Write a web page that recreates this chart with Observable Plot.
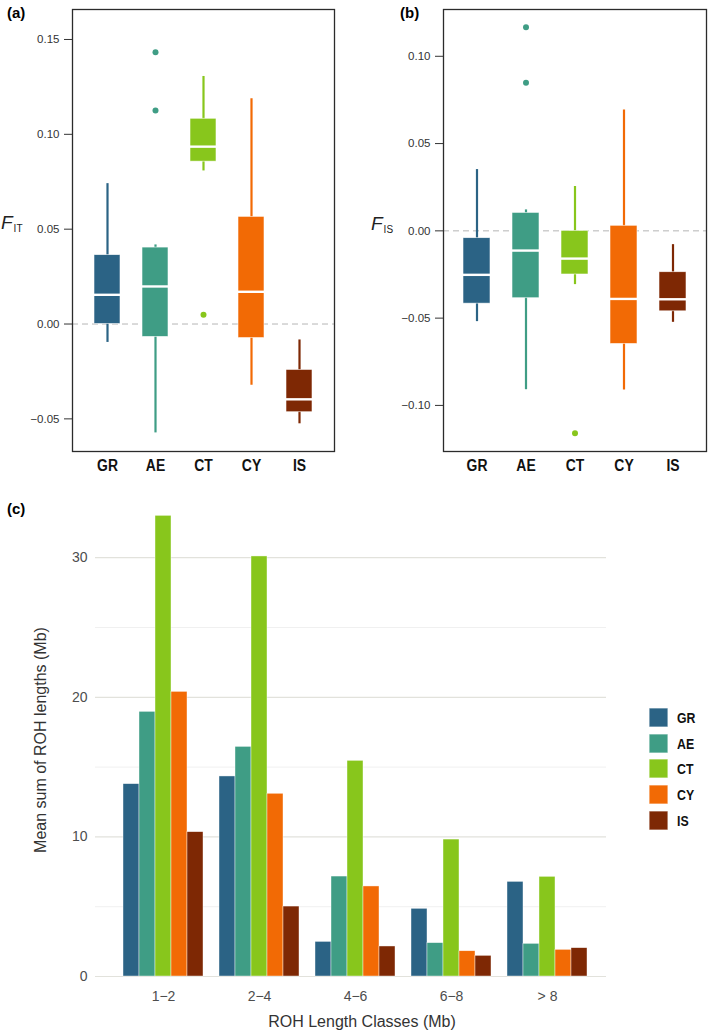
<!DOCTYPE html>
<html>
<head>
<meta charset="utf-8">
<script src="https://cdn.jsdelivr.net/npm/d3@7"></script>
<script src="https://cdn.jsdelivr.net/npm/@observablehq/plot@0.6"></script>
<style>
  body { margin: 0; background: #fff; }
  #page { position: relative; width: 709px; height: 1034px; font-family: "Liberation Sans", Arial, sans-serif; }
  .abs { position: absolute; }
  .panel-tag { position: absolute; font-weight: bold; font-size: 15px; color: #000; }
  .flab { position: absolute; color: #222; white-space: nowrap; }
  .flab i { font-size: 19px; font-family: "Liberation Sans", Arial, sans-serif; }
  .flab sub { font-size: 10px; vertical-align: -3px; margin-left: 1px; }
  .legend-row { position: absolute; left: 649px; height: 20px; }
  .legend-sw { position: absolute; left: 0; top: 0; width: 19px; height: 19px; box-shadow: inset 0 0 0 0.6px rgba(255,255,255,0.7); }
  .legend-tx { position: absolute; left: 28px; top: 1px; font-family: "Liberation Sans", Arial, sans-serif; font-weight: bold; font-size: 15px; color: #111; transform: scaleX(0.82); transform-origin: 0 50%; }
</style>
</head>
<body>
<div id="page">
  <div id="pa" class="abs" style="left:0;top:0"></div>
  <div id="pb" class="abs" style="left:360px;top:0"></div>
  <div id="pc" class="abs" style="left:0;top:480px"></div>
  <div class="panel-tag" style="left:7px;top:4px">(a)</div>
  <div class="panel-tag" style="left:400px;top:4px">(b)</div>
  <div class="panel-tag" style="left:7px;top:500px">(c)</div>
  <div class="flab" style="left:1px;top:212px"><i>F</i><sub>IT</sub></div>
  <div class="flab" style="left:371px;top:213px"><i>F</i><sub>IS</sub></div>
  <div class="abs" style="left:266px;top:1013px;width:192px;text-align:center;font-size:16px;color:#333;white-space:nowrap">ROH Length Classes (Mb)</div>
  <div class="abs" style="left:41px;top:740px;transform:translate(-50%,-50%) rotate(-90deg);font-size:16px;color:#333;white-space:nowrap">Mean sum of ROH lengths (Mb)</div>
  <div id="legend"></div>
</div>
<script>
// ---------- data ----------
const pops = ["GR", "AE", "CT", "CY", "IS"];
const popColors = ["#2b6385", "#3f9d85", "#88c61c", "#f26a05", "#7e2804"];

// (a) F_IT box statistics
const fitWhiskerLow  = [-0.0097, -0.0574, 0.0807, -0.0323, -0.0526];
const fitQ1          = [0.0000, -0.0068, 0.0856, -0.0074, -0.0465];
const fitMedian      = [0.0154, 0.0198, 0.0935, 0.0170, -0.0397];
const fitQ3          = [0.0363, 0.0403, 0.1082, 0.0565, -0.0242];
const fitWhiskerHigh = [0.0740, 0.0417, 0.1305, 0.1187, -0.0084];
const fitOutlierPop   = ["AE", "AE", "CT"];
const fitOutlierValue = [0.1433, 0.1126, 0.0049];
const fitTicks = [-0.05, 0, 0.05, 0.10, 0.15];

// (b) F_IS box statistics
const fisWhiskerLow  = [-0.0520, -0.0910, -0.0308, -0.0911, -0.0524];
const fisQ1          = [-0.0417, -0.0386, -0.0250, -0.0648, -0.0461];
const fisMedian      = [-0.0252, -0.0113, -0.0159, -0.0390, -0.0392];
const fisQ3          = [-0.0042, 0.0103, 0.0000, 0.0029, -0.0237];
const fisWhiskerHigh = [0.0351, 0.0120, 0.0254, 0.0693, -0.0079];
const fisOutlierPop   = ["AE", "AE", "CT"];
const fisOutlierValue = [0.1167, 0.0848, -0.1160];
const fisTicks = [-0.10, -0.05, 0, 0.05, 0.10];

// (c) mean sum of ROH lengths (Mb)
const rohClasses = ["1−2", "2−4", "4−6", "6−8", "> 8"];
const rohGR = [13.78, 14.33, 2.48, 4.85, 6.78];
const rohAE = [18.96, 16.45, 7.16, 2.39, 2.34];
const rohCT = [33.00, 30.09, 15.45, 9.81, 7.14];
const rohCY = [20.39, 13.09, 6.45, 1.81, 1.91];
const rohIS = [10.34, 5.01, 2.15, 1.48, 2.03];
const rohMajorTicks = [0, 10, 20, 30];
const rohMinorTicks = [5, 15, 25];

// ---------- panels (a) and (b) ----------
const tickFont = "'Liberation Sans', Arial, sans-serif";

function condenseXLabels(svg) {
  d3.select(svg).selectAll("g[aria-label='x-axis tick label'] text").each(function () {
    const t = this.getAttribute("transform") || "";
    this.setAttribute("transform", t + " scale(0.82,1)");
  });
  return svg;
}

function boxPanel(o) {
  const stats = pops.map((p, i) => ({pop: p, low: o.low[i], q1: o.q1[i], med: o.med[i], q3: o.q3[i], high: o.high[i]}));
  const outs = o.outPop.map((p, i) => ({pop: p, value: o.outVal[i]}));
  const svg = Plot.plot({
    width: o.width, height: 480,
    marginLeft: o.marginLeft, marginRight: o.marginRight, marginTop: o.marginTop, marginBottom: o.marginBottom,
    style: {fontFamily: tickFont, fontSize: "11.5px", color: "#333", background: "transparent", overflow: "visible"},
    x: {domain: pops, paddingInner: 0.449, paddingOuter: 0.398},
    y: {domain: o.domain},
    color: {domain: pops, range: popColors},
    marks: [
      Plot.ruleY([0], {stroke: "#b5b5b5", strokeDasharray: "6,4", strokeWidth: 1}),
      Plot.ruleX(stats, {x: "pop", y1: "low", y2: "high", stroke: "pop", strokeWidth: 2.2}),
      Plot.barY(stats, {x: "pop", y1: "q1", y2: "q3", fill: "pop", stroke: "#fff", strokeWidth: 0.7, strokeOpacity: 0.8}),
      Plot.tickY(stats, {x: "pop", y: "med", stroke: "#fff", strokeWidth: 2.4}),
      Plot.dot(outs, {x: "pop", y: "value", fill: "pop", r: 3}),
      Plot.frame({stroke: "#2b2b2b", strokeWidth: 1.3}),
      Plot.axisY({ticks: o.ticks, tickFormat: d3.format(".2f"), tickSize: 8, tickPadding: 5, label: null, stroke: "#333"}),
      Plot.axisX({tickSize: 0, tickPadding: 7, label: null, fontSize: 17, fontWeight: "bold", fill: "#111"})
    ]
  });
  return condenseXLabels(svg);
}

document.getElementById("pa").append(boxPanel({
  low: fitWhiskerLow, q1: fitQ1, med: fitMedian, q3: fitQ3, high: fitWhiskerHigh,
  outPop: fitOutlierPop, outVal: fitOutlierValue, ticks: fitTicks,
  domain: [-0.0672, 0.1658], width: 345, marginLeft: 72, marginRight: 11, marginTop: 9, marginBottom: 29
}));
document.getElementById("pb").append(boxPanel({
  low: fisWhiskerLow, q1: fisQ1, med: fisMedian, q3: fisQ3, high: fisWhiskerHigh,
  outPop: fisOutlierPop, outVal: fisOutlierValue, ticks: fisTicks,
  domain: [-0.1264, 0.1268], width: 349, marginLeft: 83, marginRight: 3, marginTop: 9, marginBottom: 29
}));

// ---------- panel (c) ----------
const rohSeries = [rohGR, rohAE, rohCT, rohCY, rohIS];
const rohRows = rohClasses.flatMap((c, i) => pops.map((p, j) => ({cls: c, pop: p, key: c + "|" + p, value: rohSeries[j][i]})));
const rohDomain = rohClasses.flatMap((c, i) => {
  const keys = pops.map(p => c + "|" + p);
  return i < rohClasses.length - 1 ? [...keys, c + "|gap"] : keys;
});

document.getElementById("pc").append(Plot.plot({
  width: 709, height: 554,
  marginLeft: 95, marginRight: 103, marginTop: 13, marginBottom: 58,
  style: {fontFamily: tickFont, fontSize: "14px", color: "#4d4d4d", background: "transparent", overflow: "visible"},
  x: {domain: rohDomain, padding: 0, insetLeft: 19.3, insetRight: 10.3},
  y: {domain: [0, 34.6]},
  color: {domain: pops, range: popColors},
  marks: [
    Plot.ruleY(rohMinorTicks, {stroke: "#ececec", strokeWidth: 0.8}),
    Plot.ruleY(rohMajorTicks, {stroke: "#e2e2dc", strokeWidth: 1.2}),
    Plot.barY(rohRows, {x: "key", y: "value", fill: "pop", stroke: "#fff", strokeWidth: 0.6, strokeOpacity: 0.7}),
    Plot.axisY({ticks: rohMajorTicks, tickSize: 0, tickPadding: 8, label: null, fill: "#4d4d4d"}),
    Plot.axisX({ticks: rohClasses.map(c => c + "|CT"), tickFormat: d => d.split("|")[0], tickSize: 0, tickPadding: 15, label: null, fill: "#4d4d4d"})
  ]
}));

// ---------- legend ----------
const legend = document.getElementById("legend");
pops.forEach((p, i) => {
  const row = document.createElement("div");
  row.className = "legend-row";
  row.style.top = (708 + i * 25.7) + "px";
  const sw = document.createElement("div");
  sw.className = "legend-sw";
  sw.style.background = popColors[i];
  const tx = document.createElement("div");
  tx.className = "legend-tx";
  tx.textContent = p;
  row.append(sw, tx);
  legend.append(row);
});
</script>
</body>
</html>
